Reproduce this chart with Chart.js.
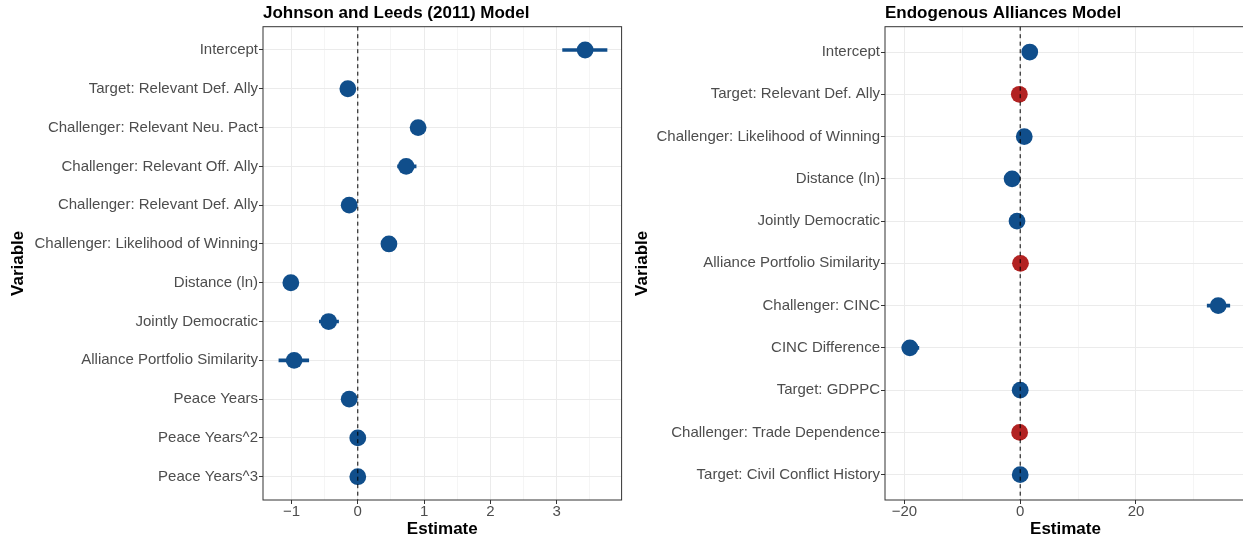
<!DOCTYPE html>
<html>
<head>
<meta charset="utf-8">
<script src="https://cdn.jsdelivr.net/npm/chart.js@4.4.1/dist/chart.umd.min.js"></script>
<style>
  html, body { margin: 0; padding: 0; background: #fff; overflow: hidden; width: 1243px; height: 541px; }
  .panel { position: absolute; top: 0; }
</style>
</head>
<body>
<div class="panel" style="left:0px"><canvas id="jlChart" width="630" height="541"></canvas></div>
<div class="panel" style="left:624px"><canvas id="endoChart" width="640" height="541"></canvas></div>
<script>
// Johnson and Leeds (2011) model
const jlVars = [
    'Intercept', 'Target: Relevant Def. Ally', 'Challenger: Relevant Neu. Pact',
    'Challenger: Relevant Off. Ally', 'Challenger: Relevant Def. Ally',
    'Challenger: Likelihood of Winning', 'Distance (ln)', 'Jointly Democratic',
    'Alliance Portfolio Similarity', 'Peace Years', 'Peace Years^2', 'Peace Years^3'
];
const jlEst  = [3.43, -0.15, 0.91, 0.73, -0.13, 0.47, -1.01, -0.44, -0.96, -0.13, 0.00, 0.00];
const jlLow  = [3.09, -0.20, 0.86, 0.60, -0.18, 0.42, -1.06, -0.58, -1.19, -0.16, -0.01, -0.01];
const jlHigh = [3.76, -0.10, 0.96, 0.88, -0.08, 0.52, -0.96, -0.29, -0.74, -0.10, 0.01, 0.01];
const jlSig  = [true, true, true, true, true, true, true, true, true, true, true, true];
const jlBreaks = [-1, 0, 1, 2, 3];
const jlMinor  = [-0.5, 0.5, 1.5, 2.5, 3.5];
const jlRange  = [-1.43, 3.98];

// Endogenous alliances model
const endoVars = [
    'Intercept', 'Target: Relevant Def. Ally', 'Challenger: Likelihood of Winning',
    'Distance (ln)', 'Jointly Democratic', 'Alliance Portfolio Similarity',
    'Challenger: CINC', 'CINC Difference', 'Target: GDPPC',
    'Challenger: Trade Dependence', 'Target: Civil Conflict History'
];
const endoEst  = [1.65, -0.15, 0.70, -1.40, -0.55, 0.05, 34.2, -19.05, 0.00, -0.10, 0.00];
const endoLow  = [1.20, -0.60, 0.30, -1.80, -0.90, -0.40, 32.3, -20.4, -0.10, -0.30, -0.20];
const endoHigh = [2.10, 0.30, 1.10, -1.00, -0.20, 0.50, 36.2, -17.5, 0.10, 0.10, 0.20];
const endoSig  = [true, false, true, true, true, false, true, true, true, false, true];
const endoBreaks = [-20, 0, 20];
const endoMinor  = [-10, 10, 30];
const endoRange  = [-23.35, 39.0];

const BLUE = '#104E8B';
const RED = '#B22222';
const GRID = '#EBEBEB';
const DARK = '#333333';

function fmt(v) {
    return v < 0 ? '\u2212' + Math.abs(v) : String(v);
}

// dashed zero line + panel border
const panelFrame = {
    id: 'panelFrame',
    afterDatasetsDraw(chart) {
        const { ctx, chartArea: a } = chart;
        const zx = chart.scales.x.getPixelForValue(0);
        ctx.save();
        ctx.strokeStyle = '#000';
        ctx.lineWidth = 1;
        ctx.setLineDash([4, 3.5]);
        ctx.beginPath();
        ctx.moveTo(zx, a.top);
        ctx.lineTo(zx, a.bottom);
        ctx.stroke();
        ctx.setLineDash([]);
        ctx.strokeStyle = DARK;
        ctx.strokeRect(a.left, a.top, a.right - a.left, a.bottom - a.top);
        ctx.restore();
    }
};

function buildPanel(id, title, vars, est, low, high, sig, breaks, minor, range, axisWidth, padRight) {
    const rows = vars.map((v, i) => i + 1);
    const colors = sig.map(s => s ? BLUE : RED);
    const xTicks = breaks.concat(minor).sort((a, b) => a - b);
    const isMajor = c => !!(c && c.tick && breaks.includes(c.tick.value));

    return new Chart(document.getElementById(id), {
        type: 'bar',
        data: {
            datasets: [
                {
                    type: 'bar',
                    indexAxis: 'y',
                    data: rows.map((r, i) => ({ y: r, x: [low[i], high[i]] })),
                    backgroundColor: colors,
                    borderWidth: 0,
                    barThickness: 3,
                    order: 2
                },
                {
                    type: 'scatter',
                    data: rows.map((r, i) => ({ y: r, x: est[i] })),
                    pointRadius: 8.4,
                    pointBackgroundColor: colors,
                    pointBorderWidth: 0,
                    order: 1
                }
            ]
        },
        options: {
            responsive: false,
            animation: false,
            layout: { padding: { left: 0, right: padRight, top: 0, bottom: 0 } },
            plugins: {
                legend: { display: false },
                tooltip: { enabled: false },
                title: {
                    display: true,
                    text: title,
                    align: 'start',
                    fullSize: false,
                    color: '#000',
                    font: { family: 'Liberation Sans', size: 17, weight: 'bold', lineHeight: 1.2 },
                    padding: { top: 3, bottom: 3.3 }
                }
            },
            scales: {
                x: {
                    type: 'linear',
                    offset: false,
                    beginAtZero: false,
                    min: range[0],
                    max: range[1],
                    afterBuildTicks: ax => { ax.ticks = xTicks.map(v => ({ value: v })); },
                    afterFit: ax => { ax.height = 41; },
                    ticks: {
                        autoSkip: false,
                        maxRotation: 0,
                        color: '#4D4D4D',
                        padding: 0.5,
                        font: { family: 'Liberation Sans', size: 15, lineHeight: 1 },
                        callback: v => breaks.includes(v) ? fmt(v) : ''
                    },
                    grid: {
                        offset: false,
                        color: GRID,
                        lineWidth: c => isMajor(c) ? 1 : 0.5,
                        tickLength: 4,
                        tickWidth: 1,
                        tickColor: c => isMajor(c) ? DARK : 'rgba(0,0,0,0)'
                    },
                    border: { display: false },
                    title: {
                        display: true,
                        text: 'Estimate',
                        color: '#000',
                        font: { family: 'Liberation Sans', size: 17, weight: 'bold', lineHeight: 1.2 },
                        padding: { top: 0, bottom: 1 }
                    }
                },
                y: {
                    type: 'linear',
                    offset: false,
                    beginAtZero: false,
                    reverse: true,
                    min: 0.4,
                    max: vars.length + 0.6,
                    afterBuildTicks: ax => { ax.ticks = rows.map(v => ({ value: v })); },
                    afterFit: ax => { ax.width = axisWidth; },
                    ticks: {
                        autoSkip: false,
                        color: '#4D4D4D',
                        padding: 1,
                        font: { family: 'Liberation Sans', size: 15 },
                        callback: v => vars[v - 1]
                    },
                    grid: {
                        offset: false,
                        color: GRID,
                        lineWidth: 1,
                        tickLength: 4,
                        tickWidth: 1,
                        tickColor: DARK
                    },
                    border: { display: false },
                    title: {
                        display: true,
                        text: 'Variable',
                        color: '#000',
                        font: { family: 'Liberation Sans', size: 17, weight: 'bold', lineHeight: 1.2 },
                        padding: { top: 8, bottom: 0 }
                    }
                }
            }
        },
        plugins: [panelFrame]
    });
}

buildPanel('jlChart', 'Johnson and Leeds (2011) Model',
    jlVars, jlEst, jlLow, jlHigh, jlSig, jlBreaks, jlMinor, jlRange, 263, 6.7);
buildPanel('endoChart', 'Endogenous Alliances Model',
    endoVars, endoEst, endoLow, endoHigh, endoSig, endoBreaks, endoMinor, endoRange, 261, 18);
</script>
</body>
</html>
